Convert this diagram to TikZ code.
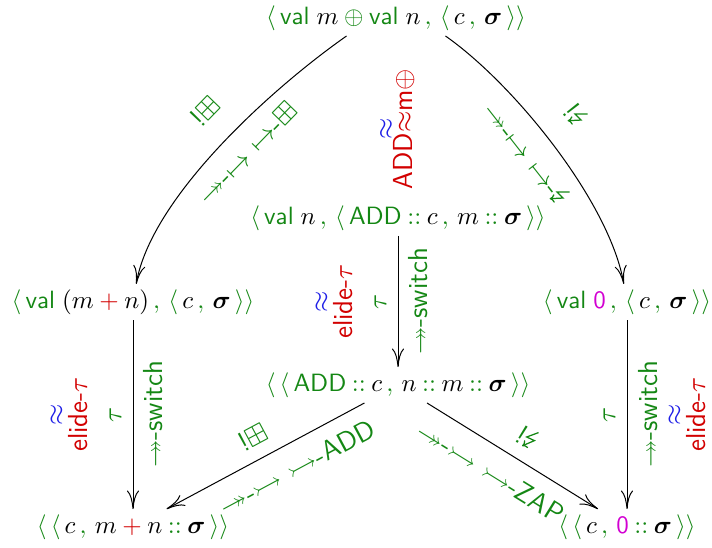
\documentclass[tikz,border=0pt]{standalone}
\usepackage{amsmath,amssymb}
\usepackage{fontspec}
\usetikzlibrary{arrows.meta}
\definecolor{grn}{RGB}{20,135,20}
\definecolor{rd}{RGB}{210,0,0}
\definecolor{blu}{RGB}{30,30,230}
\definecolor{mag}{RGB}{210,0,210}
\newcommand{\lan}{\mathopen{\textcolor{grn}{\langle}}\,}
\newcommand{\ran}{\mathclose{\textcolor{grn}{\rangle}}}
\newcommand{\gcm}{\mathpunct{\,\textcolor{grn}{,}\,}}
\newcommand{\cons}{\mathbin{\textcolor{grn}{::}}}
\newcommand{\val}{\textcolor{grn}{\textsf{val}}\;}
\newcommand{\ADD}{\textcolor{grn}{\textsf{ADD}}}
\newcommand{\sg}{\boldsymbol{\sigma}}
\newcommand{\zero}{\textcolor{mag}{\textsf{0}}}
\newcommand{\pl}{\mathbin{\textcolor{rd}{+}}}
% zigzag arrow
\newcommand{\lgt}{\tikz[baseline=0pt,x=1pt,y=1pt] \draw[grn, line width=0.5pt, -{To[length=2pt,width=3.4pt]}] (4.4,8) -- (1.3,4) -- (4.7,4.4) -- (1.6,0);}
\tikzset{
  conf/.style={inner sep=2pt},
  trans/.style={-{To[length=2.6mm,width=1.7mm]}, black},
  lab/.style={font=\sffamily\fontsize{11}{13}\selectfont, text=grn, inner sep=1pt},
  vlab/.style={font=\sffamily\fontsize{11}{13}\selectfont, text=grn, inner sep=1pt, rotate=90},
  eqv/.style={font=\sffamily\fontsize{11}{13}\selectfont, inner sep=1pt, rotate=90, align=center}
}
\begin{document}
\begin{tikzpicture}[x=0.40pt,y=0.40pt]
  \useasboundingbox (0,0) rectangle (712,547);
  \node[conf] (top) at (396,529) {$\lan\val m \mathbin{\textcolor{grn}{\oplus}} \val n\gcm \lan c\gcm \sg\,\ran\ran$};
  \node[conf] (mid) at (398,329) {$\lan\val n\gcm \lan\ADD\cons c\gcm m\cons\sg\,\ran\ran$};
  \node[conf] (lft) at (133,245) {$\lan\val (m\pl n)\gcm \lan c\gcm\sg\,\ran\ran$};
  \node[conf] (rgt) at (627,245) {$\lan\val \zero\gcm\lan c\gcm\sg\,\ran\ran$};
  \node[conf] (ctr) at (398,162) {$\lan\lan\ADD\cons c\gcm n\cons m\cons\sg\,\ran\ran$};
  \node[conf] (bl) at (133,20) {$\lan\lan c\gcm m\pl n\cons\sg\,\ran\ran$};
  \node[conf] (br) at (627,20) {$\lan\lan c\gcm \zero\cons\sg\,\ran\ran$};

  % curved steps out of the top configuration
  \draw[trans] (top.-160) to[out=-145,in=80,looseness=0.7]
    node[lab, sloped, pos=0.46, above=9pt] {!$\boxplus$}
    node[lab, sloped, pos=0.46, below=5pt] {$\twoheadrightarrow$-$\mapsto$ $\mapsto$-$\boxplus$} (lft);
  \draw[trans] (top.-20) to[out=-35,in=100,looseness=0.7]
    node[lab, sloped, pos=0.46, above=9pt] {!\lgt}
    node[lab, sloped, pos=0.46, below=5pt] {$\twoheadrightarrow$-$\mapsto$ $\mapsto$-\lgt} (rgt);
  \path (top) -- (mid)
    node[eqv, pos=0.63, xshift=4pt] {\textcolor{blu}{$\approx$}\\[-5.5pt]\textcolor{rd}{ADD$\approx$m$\oplus$}};

  % tau steps
  \draw[trans] (mid) -- (ctr)
    node[midway, xshift=-3.5pt, vlab, anchor=south] {$\tau$}
    node[midway, xshift=-17pt, eqv, anchor=south] {\textcolor{blu}{$\approx$}\\[-3.7pt]\textcolor{rd}{elide-$\tau$}}
    node[midway, xshift=3pt, vlab, anchor=north] {$\twoheadrightarrow$-switch};
  \draw[trans] (lft) -- (bl)
    node[midway, xshift=-3.5pt, vlab, anchor=south] {$\tau$}
    node[midway, xshift=-17pt, eqv, anchor=south] {\textcolor{blu}{$\approx$}\\[-3.7pt]\textcolor{rd}{elide-$\tau$}}
    node[midway, xshift=3pt, vlab, anchor=north] {$\twoheadrightarrow$-switch};
  \draw[trans] (rgt) -- (br)
    node[midway, xshift=-3.5pt, vlab, anchor=south] {$\tau$}
    node[midway, xshift=3.5pt, vlab, anchor=north] {$\twoheadrightarrow$-switch}
    node[midway, xshift=15.5pt, eqv, anchor=north] {\textcolor{blu}{$\approx$}\\[-3.7pt]\textcolor{rd}{elide-$\tau$}};

  % steps out of the stacked configuration
  \draw[trans] (ctr) -- (bl)
    node[lab, sloped, pos=0.51, above=4pt] {!$\boxplus$}
    node[lab, sloped, pos=0.40, below=5pt] {$\twoheadrightarrow$-$\rightarrowtail$ $\rightarrowtail$-ADD};
  \draw[trans] (ctr) -- (br)
    node[lab, sloped, pos=0.51, above=4pt] {!\lgt}
    node[lab, sloped, pos=0.45, below=5pt] {$\twoheadrightarrow$-$\rightarrowtail$ $\rightarrowtail$-ZAP};
\end{tikzpicture}
\end{document}
